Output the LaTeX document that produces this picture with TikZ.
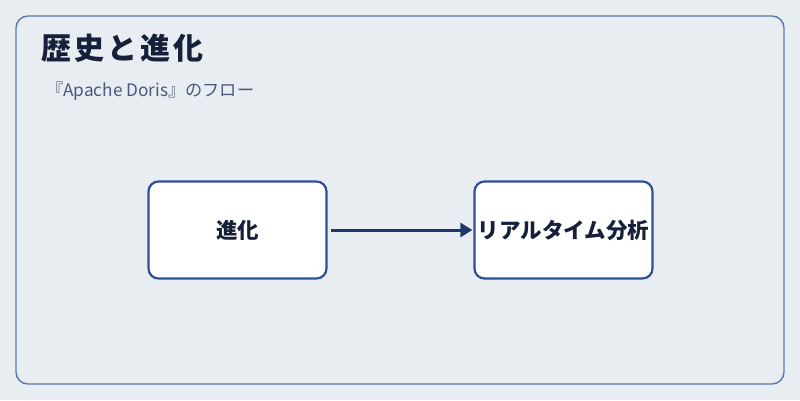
\documentclass[tikz,border=0pt]{standalone}
\usepackage{fontspec}
\newfontfamily\cjk{Noto Sans CJK JP}
\newfontfamily\cjkt[LetterSpace=10]{Noto Sans CJK JP}
\definecolor{bgc}{HTML}{E8EDF2}
\definecolor{framec}{HTML}{5C78AA}
\definecolor{boxc}{HTML}{2F4F96}
\definecolor{arrowc}{HTML}{1F386C}
\definecolor{titlec}{HTML}{16203A}
\definecolor{subc}{HTML}{4A5A7C}
\usetikzlibrary{arrows.meta}
\tikzset{
  stepbox/.style={draw=boxc, line width=2.2pt, fill=white, rounded corners=10pt,
    minimum width=178pt, minimum height=97pt, inner sep=0pt, text=titlec,
    font=\cjk\bfseries\fontsize{21.5}{24}\selectfont},
  flow/.style={draw=arrowc, line width=3pt, -{Triangle[length=12pt,width=14pt]}}
}
\begin{document}
\begin{tikzpicture}[x=1pt,y=-1pt]
\useasboundingbox (0,0) rectangle (800,400);
\fill[bgc] (0,0) rectangle (800,400);
\draw[framec, line width=1.4pt, rounded corners=12pt] (16,16) rectangle (784,384);
\node[anchor=base west, inner sep=0pt, text=titlec, font=\cjkt\bfseries\fontsize{30}{36}\selectfont] (title) at (41,59) {歴史と進化};
\node[anchor=base west, inner sep=0pt, text=subc, font=\cjk\fontsize{17.2}{20}\selectfont] (sub) at (46,96) {『Apache Doris』のフロー};
\node[stepbox] (a) at (237.5,230) {進化};
\node[stepbox] (b) at (563.5,230) {リアルタイム分析};
\draw[flow] ([xshift=3pt]a.east) -- ([xshift=-1pt]b.west);
\end{tikzpicture}
\end{document}
